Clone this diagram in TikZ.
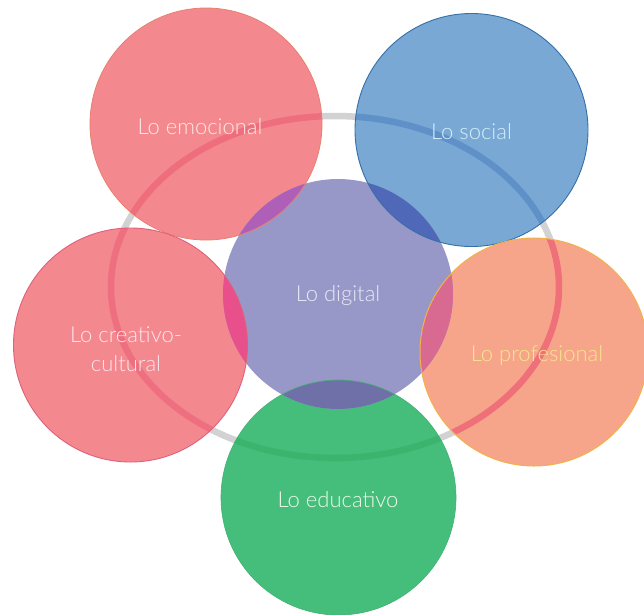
\documentclass[tikz,border=0pt]{standalone}
\usepackage{fontspec}
\setmainfont{Lato}[UprightFont=* Light]
\definecolor{ringgray}{HTML}{D2D2D2}
\definecolor{emofill}{HTML}{F3898F}
\definecolor{emoband}{HTML}{EF6E7D}
\definecolor{emoline}{HTML}{E8806E}
\definecolor{emotext}{HTML}{FCE8E2}
\definecolor{socfill}{HTML}{79A8D4}
\definecolor{socband}{HTML}{5F91C8}
\definecolor{socline}{HTML}{3570A8}
\definecolor{soctext}{HTML}{D2F0F8}
\definecolor{digfill}{HTML}{9898C8}
\definecolor{digtext}{HTML}{E8E8F8}
\definecolor{crefill}{HTML}{F4888F}
\definecolor{creband}{HTML}{EE7080}
\definecolor{creline}{HTML}{E0607A}
\definecolor{cretext}{HTML}{FCE6EA}
\definecolor{profill}{HTML}{F6A58A}
\definecolor{proband}{HTML}{F0707A}
\definecolor{proline}{HTML}{F2B24A}
\definecolor{protext}{HTML}{F6E68A}
\definecolor{edufill}{HTML}{45BE7C}
\definecolor{eduband}{HTML}{3BB46E}
\definecolor{eduline}{HTML}{40B272}
\definecolor{edutext}{HTML}{F0F8EA}
\definecolor{lensemo}{HTML}{AE60B8}
\definecolor{lenssoc}{HTML}{5068B8}
\definecolor{lenscre}{HTML}{E8508C}
\definecolor{lenspro}{HTML}{D86A92}
\definecolor{lensedu}{HTML}{7070A8}
\tikzset{
  disc/.style={circle, inner sep=0pt, minimum size=#1},
  ringline/.style={line width=6.5pt},
  lbl/.style={font=\fontsize{22}{29}\selectfont, align=center, inner sep=0pt}
}
\begin{document}
\begin{tikzpicture}[x=1pt,y=-1pt]
\useasboundingbox[fill=white] (0,0) rectangle (644,614);
\coordinate (rc) at (335,287);
% gray ring
\draw[ringgray, ringline] (rc) ellipse [x radius=224pt, y radius=171pt];
% discs
\node[disc=232pt, fill=emofill] (emo) at (206,124) {};
\node[disc=233pt, fill=socfill] (soc) at (471.5,130) {};
\node[disc=234pt, fill=crefill] (cre) at (130.5,345) {};
\node[disc=228pt, fill=profill] (pro) at (534,352) {};
\node[disc=235pt, fill=edufill] (edu) at (338.5,497.5) {};
\node[disc=230pt, fill=digfill] (dig) at (338,294) {};
% ring seen through discs
\begin{scope}\clip (emo.center) circle [radius=116pt];
  \draw[emoband, ringline] (rc) ellipse [x radius=224pt, y radius=171pt];\end{scope}
\begin{scope}\clip (soc.center) circle [radius=116.5pt];
  \draw[socband, ringline] (rc) ellipse [x radius=224pt, y radius=171pt];\end{scope}
\begin{scope}\clip (cre.center) circle [radius=117pt];
  \draw[creband, ringline] (rc) ellipse [x radius=224pt, y radius=171pt];\end{scope}
\begin{scope}\clip (pro.center) circle [radius=114pt];
  \draw[proband, ringline] (rc) ellipse [x radius=224pt, y radius=171pt];\end{scope}
\begin{scope}\clip (edu.center) circle [radius=117.5pt];
  \draw[eduband, ringline] (rc) ellipse [x radius=224pt, y radius=171pt];\end{scope}
% overlaps with the central disc
\begin{scope}\clip (dig.center) circle [radius=115pt];
  \fill[lensemo] (emo.center) circle [radius=116pt];
  \fill[lenssoc] (soc.center) circle [radius=116.5pt];
  \fill[lenscre] (cre.center) circle [radius=117pt];
  \fill[lenspro] (pro.center) circle [radius=114pt];
  \fill[lensedu] (edu.center) circle [radius=117.5pt];
\end{scope}
% outlines
\draw[emoline, line width=0.8pt] (emo.center) circle [radius=116pt];
\draw[socline, line width=0.9pt] (soc.center) circle [radius=116.5pt];
\draw[creline, line width=0.9pt] (cre.center) circle [radius=117pt];
\draw[proline, line width=1pt] (pro.center) circle [radius=114pt];
\draw[eduline, line width=0.6pt] (edu.center) circle [radius=117.5pt];
% labels
\node[lbl, text=emotext] (emo-t) at (200,127) {Lo emocional};
\node[lbl, text=soctext] (soc-t) at (471.5,132) {Lo social};
\node[lbl, text=digtext] (dig-t) at (338,296) {Lo digital};
\node[lbl, text=cretext] (cre-t) at (126,349) {Lo creativo-\\cultural};
\node[lbl, text=protext] (pro-t) at (537,355) {Lo profesional};
\node[lbl, text=edutext] (edu-t) at (338,500) {Lo educativo};
\end{tikzpicture}
\end{document}
